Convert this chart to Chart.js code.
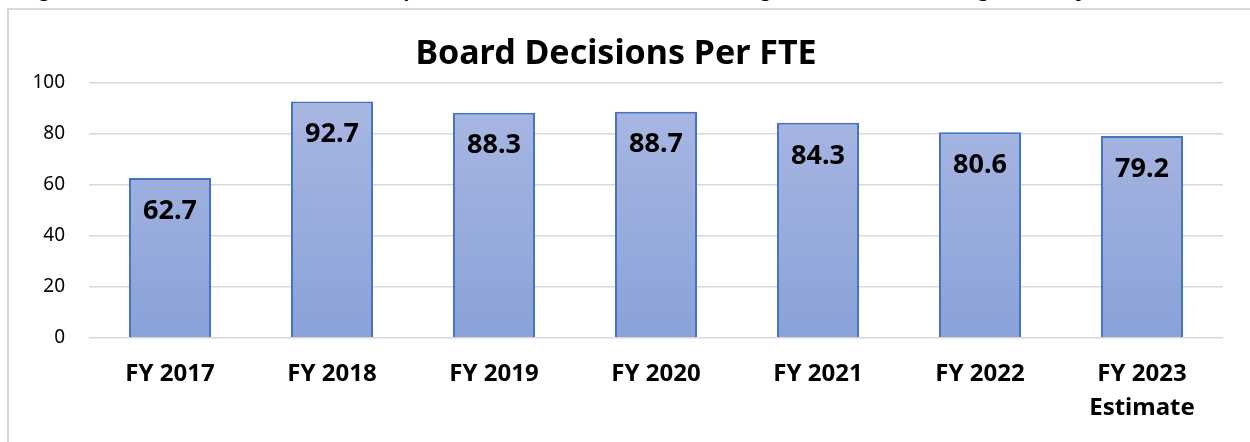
<!DOCTYPE html>
<html>
<head>
<meta charset="utf-8">
<script src="https://cdn.jsdelivr.net/npm/chart.js@4/dist/chart.umd.min.js"></script>
<style>
  body { margin: 0; background: #fff; overflow: hidden; width: 1250px; height: 442px; position: relative; }
  #caption { position: absolute; left: 8px; top: -35px; font-family: 'Liberation Sans', Arial, sans-serif; font-size: 32px; white-space: nowrap; color: #000; line-height: 37px; }
  #box { position: absolute; left: 7px; top: 8px; width: 1300px; height: 500px; border-left: 2px solid #d9d9d9; border-top: 2px solid #d9d9d9; }
  #wrap { position: absolute; left: 9px; top: 10px; width: 1244px; height: 440px; }
</style>
</head>
<body>
<div id="caption">Figure 40: Board Decisions per FTE – FY 2017 through FY 2023 Target Projection</div>
<div id="box"></div>
<div id="wrap"><canvas id="myChart"></canvas></div>
<script>
// data
let years = ['FY 2017', 'FY 2018', 'FY 2019', 'FY 2020', 'FY 2021', 'FY 2022', ['FY 2023', 'Estimate']];
let decisionsPerFte = [62.7, 92.7, 88.3, 88.7, 84.3, 80.6, 79.2];
let yTicks = [0, 20, 40, 60, 80, 100];

Chart.defaults.font.family = "'Noto Sans', sans-serif";
Chart.defaults.color = '#000';

// values written inside the top of each bar
let barLabels = {
  id: 'barLabels',
  afterDatasetsDraw(chart) {
    let ctx = chart.ctx;
    let meta = chart.getDatasetMeta(0);
    ctx.save();
    ctx.font = "bold 27px 'Noto Sans', sans-serif";
    ctx.fillStyle = '#000';
    ctx.textAlign = 'center';
    ctx.textBaseline = 'middle';
    meta.data.forEach((bar, i) => {
      ctx.fillText(decisionsPerFte[i].toFixed(1), bar.x, bar.y + 33);
    });
    ctx.restore();
  }
};

let myChart = document.getElementById('myChart').getContext('2d');
let decisionsChart = new Chart(myChart, {
  type: 'bar',
  data: {
    labels: years,
    datasets: [{
      label: 'Board Decisions Per FTE',
      data: decisionsPerFte,
      backgroundColor: (c) => {
        let area = c.chart.chartArea;
        if (!area) return '#9aabdc';
        let g = c.chart.ctx.createLinearGradient(0, area.top, 0, area.bottom);
        g.addColorStop(0, '#abb8e2');
        g.addColorStop(1, '#8aa2d9');
        return g;
      },
      borderColor: '#4472c4',
      borderWidth: 2,
      barPercentage: 0.506,
      categoryPercentage: 1
    }]
  },
  options: {
    responsive: true,
    maintainAspectRatio: false,
    animation: false,
    layout: { padding: { left: 0, right: 30, top: 0, bottom: 14 } },
    plugins: {
      legend: { display: false },
      tooltip: { enabled: false },
      title: {
        display: true,
        text: 'Board Decisions Per FTE',
        color: '#000',
        font: { size: 34, weight: 'bold' },
        padding: { top: 24, bottom: 8 }
      }
    },
    scales: {
      x: {
        grid: { display: false },
        border: { display: false },
        ticks: { font: { size: 24, weight: 'bold', lineHeight: 1.417 }, padding: 11, maxRotation: 0 }
      },
      y: {
        min: 0,
        max: 100,
        afterBuildTicks: (s) => { s.ticks = yTicks.map(v => ({ value: v })); },
        afterFit: (s) => { s.width = 80; },
        grid: { color: '#d9d9d9', lineWidth: 1.5, drawTicks: false },
        border: { display: false },
        ticks: { font: { size: 19 }, padding: 24 }
      }
    }
  },
  plugins: [barLabels]
});
</script>
</body>
</html>
